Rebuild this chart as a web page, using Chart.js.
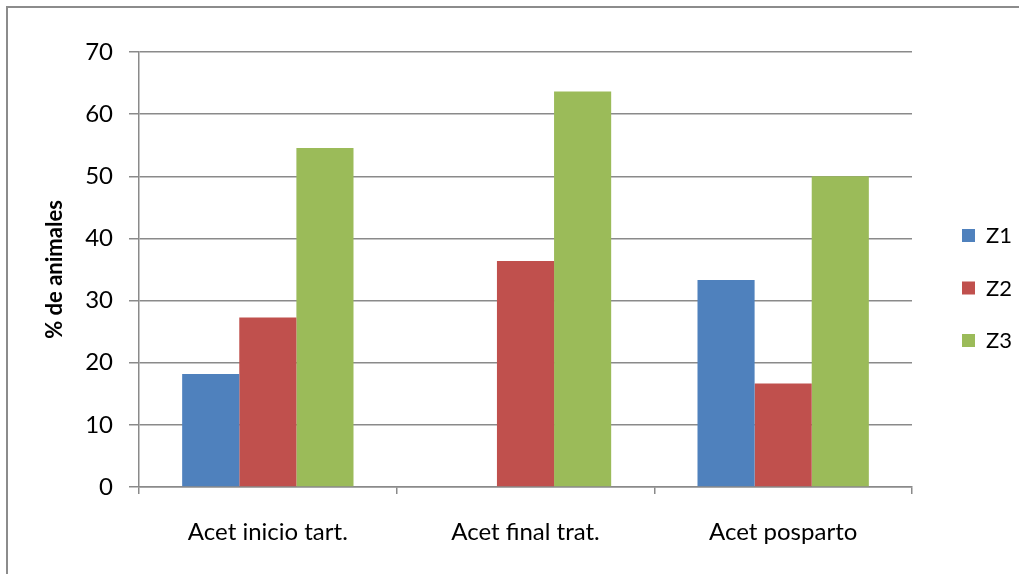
<!DOCTYPE html>
<html>
<head>
<meta charset="utf-8">
<script src="https://cdn.jsdelivr.net/npm/chart.js@4/dist/chart.umd.min.js"></script>
<style>
  html, body { margin: 0; padding: 0; background: #fff; }
  #wrap { position: relative; width: 1019px; height: 574px; }
</style>
</head>
<body>
<div id="wrap"><canvas id="c" width="1019" height="574"></canvas></div>
<script>
// Categories and series values (% of animals per zone)
const categories = ['Acet inicio tart.', 'Acet final trat.', 'Acet posparto'];
const z1 = [18.18, 0, 33.33];
const z2 = [27.27, 36.36, 16.67];
const z3 = [54.55, 63.64, 50.0];
const seriesNames = ['Z1', 'Z2', 'Z3'];
const seriesColors = ['#4F81BD', '#C0504D', '#9BBB59'];
const yTicks = [0, 10, 20, 30, 40, 50, 60, 70];

const FONT = 'Lato, "Open Sans", sans-serif';
const GRID = '#8a8a8a';

// Outer frame: its top and left edges run past the canvas edge on the right and bottom
const framePlugin = {
  id: 'frame',
  beforeDraw(chart) {
    const ctx = chart.ctx;
    ctx.save();
    ctx.fillStyle = '#ffffff';
    ctx.fillRect(0, 0, chart.width, chart.height);
    ctx.strokeStyle = '#8c8c8c';
    ctx.lineWidth = 2;
    ctx.strokeRect(7, 7, 1040, 600);
    ctx.restore();
  }
};

// Legend drawn at the right of the plot, one row per series
const sideLegend = {
  id: 'sideLegend',
  afterDraw(chart) {
    const ctx = chart.ctx;
    ctx.save();
    ctx.font = '22px ' + FONT;
    ctx.textBaseline = 'middle';
    ctx.textAlign = 'left';
    chart.data.datasets.forEach((ds, i) => {
      const y = 235 + i * 52.5;
      ctx.fillStyle = ds.backgroundColor;
      ctx.fillRect(962, y - 6, 13, 13);
      ctx.fillStyle = '#000';
      ctx.fillText(ds.label, 986, y + 1);
    });
    ctx.restore();
  }
};

const datasets = [z1, z2, z3].map((vals, i) => ({
  label: seriesNames[i],
  data: vals,
  backgroundColor: seriesColors[i],
  borderWidth: 0,
  barPercentage: 1.0,
  categoryPercentage: 0.665
}));

new Chart(document.getElementById('c'), {
  type: 'bar',
  data: { labels: categories, datasets },
  options: {
    responsive: false,
    animation: false,
    devicePixelRatio: 1,
    layout: { padding: { top: 52, right: 107, left: 0, bottom: 0 } },
    plugins: {
      legend: { display: false },
      tooltip: { enabled: false }
    },
    scales: {
      x: {
        grid: {
          offset: true,
          drawOnChartArea: false,
          drawTicks: true,
          tickLength: 7,
          color: GRID,
          lineWidth: 1.5
        },
        border: { display: true, color: GRID, width: 1.5 },
        ticks: {
          color: '#000',
          font: { family: FONT, size: 24 },
          padding: 24,
          maxRotation: 0
        },
        afterFit(scale) { scale.height = 87; }
      },
      y: {
        min: 0,
        max: 70,
        afterBuildTicks(scale) { scale.ticks = yTicks.map(v => ({ value: v })); },
        grid: {
          color: GRID,
          lineWidth: 1.5,
          drawTicks: true,
          tickLength: 10
        },
        border: { display: true, color: GRID, width: 1.5 },
        ticks: {
          color: '#000',
          font: { family: FONT, size: 24 },
          padding: 16
        },
        title: {
          display: true,
          text: '% de animales',
          color: '#000',
          font: { family: FONT, size: 22, weight: 'bold' },
          padding: { top: 42, bottom: 0 }
        },
        afterFit(scale) { scale.width = 139; }
      }
    }
  },
  plugins: [framePlugin, sideLegend]
});
</script>
</body>
</html>
